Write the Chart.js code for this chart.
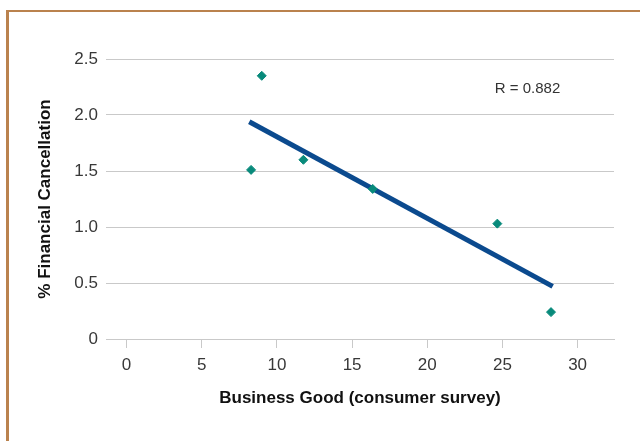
<!DOCTYPE html>
<html>
<head>
<meta charset="utf-8">
<script src="https://cdn.jsdelivr.net/npm/chart.js@4/dist/chart.umd.min.js"></script>
<style>
  html, body { margin: 0; padding: 0; background: #fff; overflow: hidden; }
  #wrap { position: relative; width: 640px; height: 441px; }
  #frame { position: absolute; left: 6px; top: 10px; right: -10px; bottom: -10px;
           border-left: 3px solid #ba824e; border-top: 2px solid #ba824e; pointer-events: none; }
  canvas { position: absolute; left: 0; top: 0; }
</style>
</head>
<body>
<div id="wrap">
  <canvas id="chart" width="640" height="441"></canvas>
  <div id="frame"></div>
</div>
<script>
// survey points
const businessGood = [8.28, 8.99, 11.76, 16.37, 24.66, 28.23];
const cancellation = [1.51, 2.35, 1.60, 1.34, 1.03, 0.24];

// fitted line end points
const trendX = [8.16, 28.34];
const trendY = [1.94, 0.47];

const yTicks = [0, 0.5, 1.0, 1.5, 2.0, 2.5];
const xTicks = [0, 5, 10, 15, 20, 25, 30];

const rLabel = 'R = 0.882';

const FONT = "'Liberation Sans', Arial, Helvetica, sans-serif";
const GRID = '#c9c9c9';

const rText = {
    id: 'rText',
    afterDatasetsDraw(chart) {
        const ctx = chart.ctx;
        const x = chart.scales.x.getPixelForValue(26.67);
        const y = chart.scales.y.getPixelForValue(2.235);
        ctx.save();
        ctx.font = '15px ' + FONT;
        ctx.fillStyle = '#333';
        ctx.textAlign = 'center';
        ctx.textBaseline = 'middle';
        ctx.fillText(rLabel, x, y);
        ctx.restore();
    }
};

new Chart(document.getElementById('chart'), {
    type: 'scatter',
    data: {
        datasets: [
            {
                type: 'line',
                order: 2,
                data: trendX.map((x, i) => ({x: x, y: trendY[i]})),
                borderColor: '#0b4a8e',
                borderWidth: 5,
                borderCapStyle: 'butt',
                pointRadius: 0,
                fill: false
            },
            {
                order: 1,
                data: businessGood.map((x, i) => ({x: x, y: cancellation[i]})),
                pointStyle: 'rectRot',
                pointRadius: 4.5,
                pointBorderWidth: 1,
                backgroundColor: '#088a7b',
                borderColor: '#088a7b'
            }
        ]
    },
    options: {
        responsive: false,
        animation: false,
        layout: { padding: { left: 35, top: 59, right: 26, bottom: 32 } },
        plugins: { legend: { display: false }, tooltip: { enabled: false } },
        scales: {
            x: {
                type: 'linear',
                min: -1.37,
                max: 32.42,
                afterBuildTicks: s => { s.ticks = xTicks.map(v => ({value: v})); },
                afterFit: s => { s.height = 70; },
                grid: { drawOnChartArea: false, drawTicks: true, tickLength: 9, color: GRID },
                border: { display: true, color: GRID },
                ticks: { font: { family: FONT, size: 17 }, color: '#383838', padding: 7, maxRotation: 0 },
                title: { display: true, text: 'Business Good (consumer survey)', padding: 0,
                         font: { family: FONT, size: 17, weight: 'bold' }, color: '#111' }
            },
            y: {
                min: 0,
                max: 2.5,
                afterBuildTicks: s => { s.ticks = yTicks.map(v => ({value: v})); },
                afterFit: s => { s.width = 71; },
                grid: { color: GRID, drawTicks: false },
                border: { display: false },
                ticks: { font: { family: FONT, size: 17 }, color: '#383838', padding: 8,
                         callback: v => v === 0 ? '0' : v.toFixed(1) },
                title: { display: true, text: '% Financial Cancellation', padding: 0,
                         font: { family: FONT, size: 17, weight: 'bold' }, color: '#111' }
            }
        }
    },
    plugins: [rText]
});
</script>
</body>
</html>
